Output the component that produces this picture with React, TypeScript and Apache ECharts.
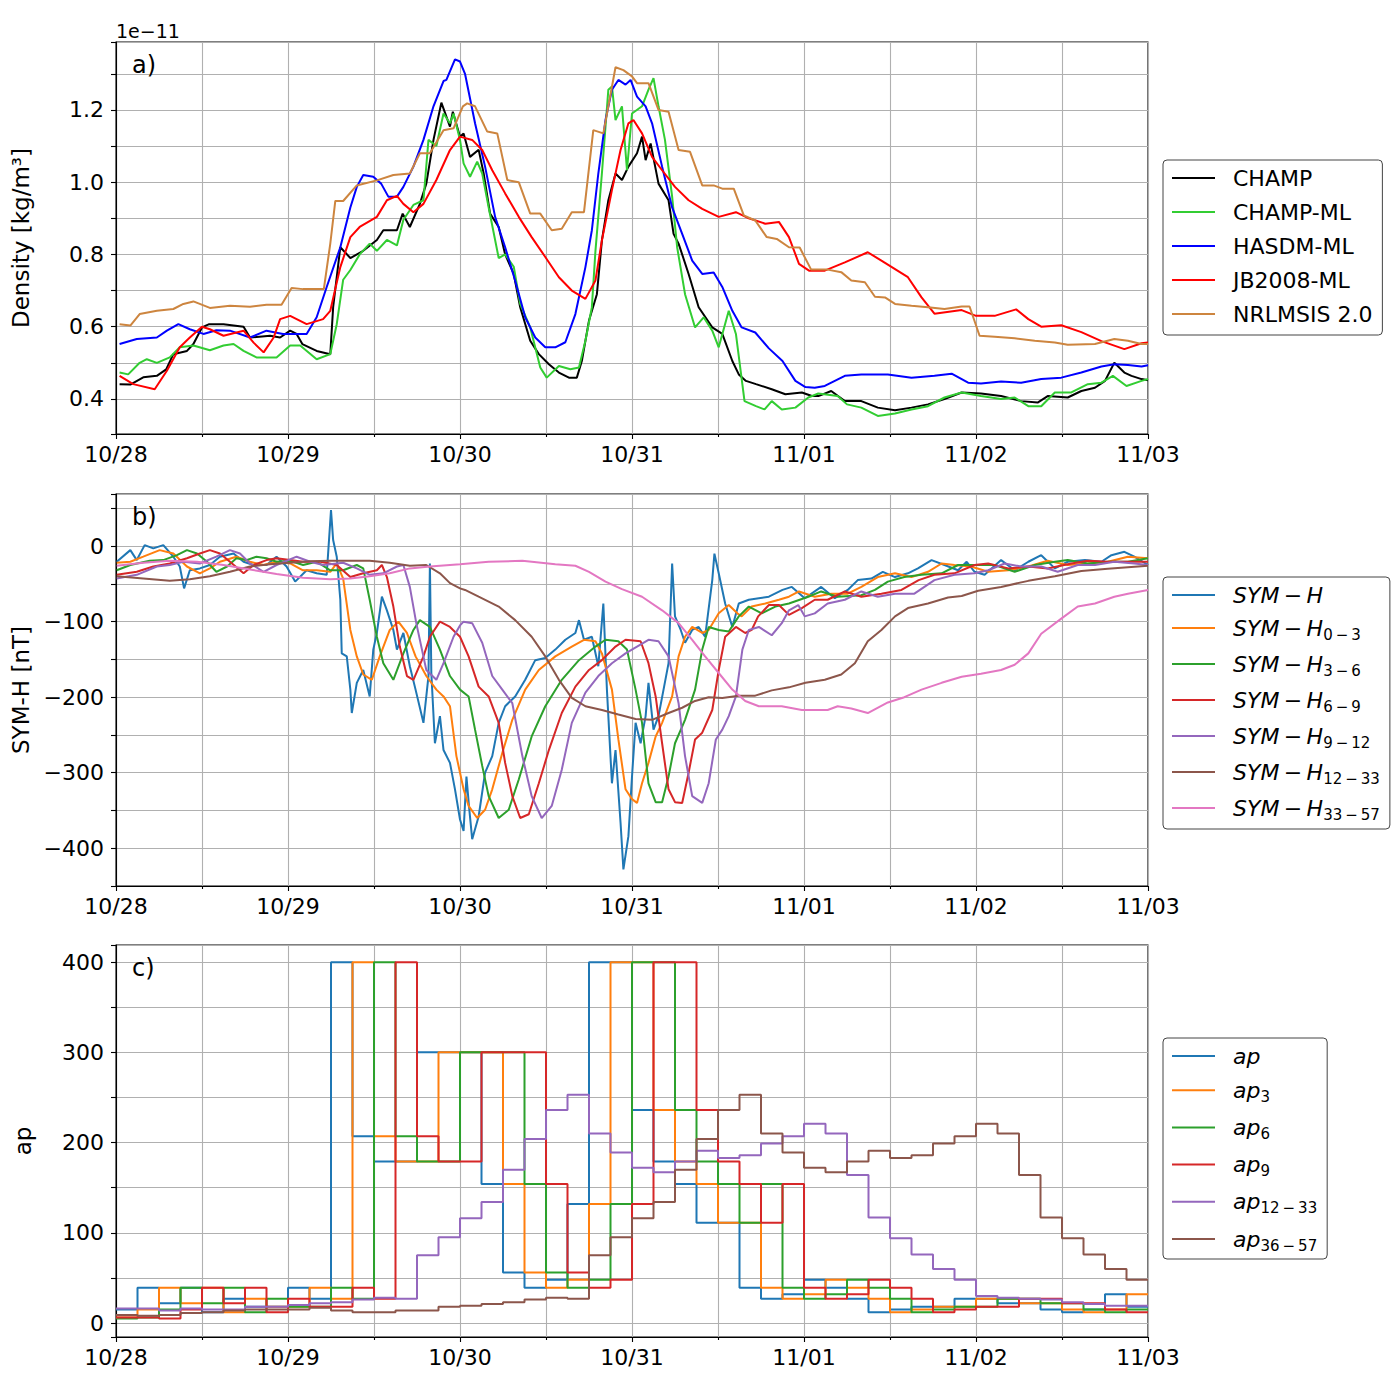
import React, { useEffect, useRef } from 'react';
import * as echarts from 'echarts';

const FONT = 'DejaVu Sans';
const DATE_LABELS = ['10/28', '10/29', '10/30', '10/31', '11/01', '11/02', '11/03'];

// ---------- Panel a: density (units of 1e-11 kg/m^3), [hours since 10/28, value] ----------
const CHAMP = [[0.5,0.441],[2,0.44],[3.8,0.46],[5.7,0.464],[7,0.482],[8,0.524],[9.9,0.533],[10.8,0.552],[12,0.598],[13,0.607],[15,0.607],[17.8,0.60],[18.7,0.57],[21.5,0.575],[22.9,0.57],[24.3,0.589],[25.2,0.58],[26,0.552],[28,0.533],[29.9,0.524],[30.3,0.654],[31.3,0.82],[32.7,0.79],[34.5,0.81],[36.4,0.84],[37.3,0.867],[39.2,0.867],[40,0.913],[41,0.876],[42.4,0.94],[43.3,0.996],[44.3,1.117],[45.4,1.22],[46.6,1.154],[47,1.195],[48,1.126],[48.5,1.135],[49.4,1.07],[50.6,1.09],[51.3,1.024],[52.2,0.913],[53.4,0.876],[54.3,0.80],[55.5,0.746],[56.4,0.654],[57.8,0.561],[59,0.524],[60.4,0.496],[61.8,0.473],[63.2,0.459],[64.3,0.459],[65,0.505],[66,0.617],[67.1,0.69],[67.8,0.839],[68.7,0.95],[69.7,1.024],[70.6,1.006],[71.5,1.043],[72.7,1.08],[73.4,1.126],[73.9,1.061],[74.6,1.107],[75.7,0.996],[77.1,0.95],[77.8,0.857],[78.5,0.83],[79.9,0.746],[81.3,0.654],[83.2,0.598],[84.6,0.58],[86,0.505],[86.9,0.468],[87.9,0.45],[89.3,0.441],[91.5,0.427],[93.4,0.413],[95.7,0.418],[97.1,0.408],[98,0.408],[99.8,0.422],[101.7,0.394],[104,0.394],[106.3,0.376],[108.7,0.369],[111,0.376],[113.3,0.385],[115.6,0.40],[118,0.418],[120.7,0.415],[123.5,0.408],[126.3,0.394],[128.6,0.39],[130,0.408],[132.8,0.404],[134.7,0.422],[136.6,0.431],[138,0.45],[139.3,0.50],[140.7,0.473],[141.7,0.464],[143.1,0.455],[144,0.452]];
const CHAMP_ML = [[0.5,0.473],[1.7,0.468],[3.3,0.50],[4.3,0.51],[5.7,0.50],[7.5,0.515],[8.9,0.543],[10.8,0.548],[13.1,0.535],[15,0.548],[16.4,0.552],[17.8,0.533],[19.6,0.515],[22.4,0.515],[24.3,0.548],[25.7,0.548],[28,0.51],[29.9,0.524],[30.8,0.607],[31.7,0.73],[32.7,0.757],[34,0.80],[35.4,0.83],[36.4,0.81],[37.8,0.84],[39.2,0.825],[40.1,0.896],[41.5,0.937],[42.9,0.95],[43.6,1.117],[44.7,1.10],[45.7,1.19],[46.6,1.163],[47.1,1.19],[48,1.117],[48.5,1.052],[49.4,1.015],[50.4,1.057],[51.1,1.024],[52,0.93],[53.4,0.79],[54.3,0.80],[55.5,0.766],[56.4,0.663],[57.8,0.598],[59.2,0.487],[60.1,0.459],[61.8,0.491],[63.4,0.482],[64.6,0.487],[65.5,0.561],[66.4,0.654],[66.9,0.81],[67.8,1.024],[68.7,1.256],[69.2,1.265],[69.7,1.172],[70.6,1.21],[71.3,1.033],[72,1.19],[73.4,1.21],[74.3,1.256],[75,1.288],[75.7,1.21],[76.6,1.117],[77.6,0.96],[78.3,0.82],[79.4,0.69],[80.8,0.598],[82,0.626],[83.2,0.589],[84.1,0.543],[85.5,0.644],[86.5,0.58],[87.7,0.394],[89.3,0.38],[90.5,0.371],[91.5,0.394],[92.9,0.371],[94.8,0.376],[96.6,0.404],[98,0.415],[100.7,0.408],[102,0.385],[104,0.376],[106.3,0.353],[108.7,0.36],[111,0.371],[113.3,0.38],[115.6,0.404],[118,0.418],[120.7,0.408],[123.5,0.40],[125.4,0.404],[127.3,0.38],[129.1,0.38],[131,0.418],[133.3,0.418],[135.6,0.441],[137.5,0.445],[139.1,0.464],[141,0.436],[143.1,0.45],[144,0.455]];
const HASDM_ML = [[0.5,0.552],[2.9,0.566],[5.7,0.57],[7.1,0.589],[8.7,0.607],[10.3,0.593],[12.2,0.58],[14,0.59],[15.9,0.589],[18.7,0.57],[21,0.589],[23.3,0.58],[26.6,0.58],[28,0.626],[29.4,0.71],[31.3,0.82],[32.7,0.93],[33.6,0.987],[34.5,1.02],[35.9,1.015],[37,0.996],[38,0.96],[39.2,0.96],[40.1,0.987],[41.5,1.043],[42.9,1.117],[44.3,1.21],[45.7,1.28],[46.1,1.283],[47.3,1.34],[48,1.334],[48.7,1.30],[50.1,1.163],[51.5,1.043],[52.9,0.904],[54.3,0.82],[55.7,0.727],[57.1,0.626],[58.5,0.57],[59.9,0.543],[61.3,0.543],[62.7,0.557],[64.1,0.635],[65.5,0.765],[66.4,0.867],[67.3,1.024],[68.3,1.172],[69.2,1.256],[70.1,1.283],[71.1,1.27],[71.8,1.283],[72.7,1.237],[73.9,1.21],[74.8,1.163],[76.2,1.043],[77.6,0.93],[79,0.857],[80.4,0.783],[81.8,0.746],[83.4,0.75],[84.6,0.71],[86,0.644],[87.3,0.598],[89.2,0.584],[91.1,0.54],[93,0.505],[94.8,0.45],[96.2,0.433],[97.5,0.431],[98.9,0.436],[101.7,0.464],[104,0.468],[107.7,0.468],[111,0.459],[114.2,0.464],[116.6,0.47],[118.9,0.445],[120.7,0.443],[123.5,0.448],[126.3,0.445],[129.1,0.455],[131.9,0.459],[134.7,0.473],[137.5,0.49],[139.3,0.496],[141.2,0.494],[143.1,0.49],[144,0.493]];
const JB2008_ML = [[0.5,0.464],[2.4,0.441],[5.4,0.427],[7.1,0.478],[8.9,0.543],[10.3,0.57],[12,0.60],[13.1,0.593],[15,0.575],[17.8,0.589],[19.2,0.556],[20.6,0.529],[22,0.57],[22.9,0.621],[24.3,0.63],[26.6,0.607],[28.9,0.621],[29.9,0.644],[31.3,0.765],[32.7,0.848],[34,0.876],[36.4,0.904],[37.8,0.95],[39.2,0.962],[40.1,0.94],[41.5,0.917],[42.9,0.94],[44.7,1.006],[46.6,1.089],[48,1.126],[49.7,1.117],[51.1,1.089],[52.5,1.033],[54.3,0.969],[56.2,0.904],[58,0.848],[59.9,0.793],[61.8,0.737],[63.6,0.70],[65.5,0.677],[66.9,0.728],[67.8,0.839],[69.2,0.978],[70.4,1.089],[71.5,1.163],[72.2,1.172],[73.4,1.135],[74.8,1.07],[76.2,1.033],[78,0.987],[79.9,0.95],[81.8,0.926],[84.1,0.904],[86.5,0.917],[88.3,0.90],[90.6,0.885],[92.5,0.89],[93.9,0.848],[95.3,0.774],[96.7,0.755],[98.9,0.755],[101.7,0.778],[104.9,0.806],[106.8,0.783],[110.5,0.737],[112.4,0.681],[114.2,0.636],[118,0.646],[120,0.63],[122.6,0.63],[125.6,0.648],[127.3,0.621],[129.1,0.60],[131.9,0.604],[134.7,0.585],[137.5,0.56],[140.7,0.538],[143.1,0.554],[144,0.556]];
const NRLMSIS = [[0.5,0.607],[2,0.603],[3.3,0.635],[5.7,0.644],[8,0.649],[9.4,0.663],[10.8,0.67],[13.1,0.652],[15.9,0.658],[18.7,0.655],[21,0.661],[23.1,0.661],[24.5,0.707],[26.1,0.704],[29,0.704],[29.9,0.83],[30.6,0.948],[31.7,0.948],[33.6,0.991],[36.4,1.005],[38.7,1.02],[41,1.024],[42.4,1.08],[43.8,1.08],[45.7,1.144],[47.1,1.149],[48.4,1.21],[49,1.218],[50.1,1.21],[51.8,1.14],[53.2,1.135],[54.6,1.006],[56.2,1.0],[57.8,0.913],[59.2,0.913],[60.8,0.867],[62.2,0.871],[63.6,0.917],[65.3,0.917],[66.6,1.144],[68,1.135],[69.7,1.318],[70.8,1.31],[72,1.293],[72.7,1.274],[74.3,1.274],[75.7,1.2],[77.1,1.195],[78.5,1.089],[80.1,1.084],[81.8,0.991],[83.4,0.991],[84.6,0.982],[86.2,0.982],[87.6,0.908],[89.2,0.894],[90.8,0.848],[92.2,0.843],[93.9,0.82],[95.4,0.819],[97,0.758],[99.3,0.758],[101.2,0.751],[102.6,0.728],[104.5,0.723],[105.9,0.683],[107.3,0.681],[108.7,0.663],[111,0.658],[113.3,0.654],[115.6,0.649],[118,0.656],[119.1,0.656],[120.5,0.575],[122.6,0.572],[125.4,0.568],[128.2,0.561],[131,0.556],[132.8,0.55],[136.6,0.552],[139.3,0.566],[141.2,0.561],[143.1,0.552],[144,0.552]];

// ---------- Panel b: SYM-H [nT] ----------
const SYMH = [[0.1,-20.7],[2,-5.3],[2.9,-18.5],[4,1.3],[5.2,-3],[6.6,1.3],[8,-14],[8.9,-27],[9.5,-56],[10.3,-32],[11.7,-29.5],[13.1,-25],[14.5,-14],[16.4,-9.7],[17.8,-20.7],[19.2,-25],[21,-25],[22.4,-14],[23.8,-27],[25,-47],[26.6,-32],[28,-36],[29.4,-38],[30,47.6],[30.3,8],[30.8,-14],[31.3,-71],[31.5,-142],[32.2,-146],[32.7,-190],[32.9,-221],[33.6,-181],[34.5,-164],[35.4,-199],[35.9,-137],[36.4,-115],[37.1,-67],[37.8,-85],[38.7,-111],[39.2,-137],[40.1,-115],[41,-159],[41.8,-190],[42.9,-234],[43.6,-172],[43.8,-23],[44,-168],[44.5,-261],[45.2,-225],[45.7,-270],[46.6,-287],[47.3,-322],[48,-362],[48.5,-377],[48.9,-305],[49.3,-349],[49.7,-388],[50.6,-358],[51.5,-300],[52.5,-278],[53.4,-234],[54.3,-212],[55.7,-199],[57.1,-177],[58.5,-151],[59.9,-148],[61.3,-137],[62.7,-124],[64.1,-115],[64.6,-98],[65.3,-124],[66.4,-120],[67.3,-159],[68,-76],[68.5,-190],[69.2,-314],[69.7,-270],[70.4,-366],[70.8,-428],[71.5,-384],[72,-305],[72.5,-234],[73.2,-261],[73.9,-225],[74.3,-181],[75,-243],[75.7,-225],[76.4,-190],[77.1,-155],[77.6,-23],[78,-93],[78.8,-111],[79.4,-128],[80.4,-111],[81.3,-107],[82.2,-120],[83.2,-45],[83.5,-10],[84.1,-36],[85,-76],[86,-107],[86.9,-76],[88.3,-71],[89.7,-69],[91.1,-67],[93,-58],[94.3,-54],[96.1,-69],[98.4,-54],[100.3,-69],[102.1,-58],[103.5,-45],[105.4,-43],[107,-34],[108.7,-41],[110.5,-36],[111.9,-29.5],[113.8,-18.5],[115.6,-25],[117.5,-32],[118.7,-20.7],[119.8,-34],[121.2,-38],[123.5,-18.5],[125.4,-32],[127.3,-20.7],[129.1,-12],[131,-29.5],[132.8,-20.7],[135.2,-18.5],[137.5,-20.7],[138.9,-12],[140.7,-7.5],[142.1,-14],[144,-25]];
const SYMH_0_3 = [[0.1,-22],[2,-20.7],[3.8,-14],[6.1,-5.3],[8,-9.7],[9.9,-27],[11.7,-36],[13.1,-29.5],[14.5,-20.7],[16.8,-14],[18.7,-20.7],[20.6,-25],[22.4,-20.7],[24.3,-23],[26.1,-32],[28,-32],[29.9,-34],[30.8,-23],[31.7,-43],[32.7,-111],[33.6,-146],[34.5,-170],[35.7,-177],[36.8,-146],[38.2,-111],[39.4,-100],[40.6,-115],[41.8,-146],[43.3,-172],[44.7,-190],[45.7,-199],[46.6,-212],[47.5,-278],[48.5,-322],[49.2,-344],[50.4,-360],[51.5,-349],[52.5,-322],[53.9,-274],[55.3,-230],[57.1,-190],[59,-164],[61.3,-146],[63.6,-133],[65.3,-124],[66.9,-126],[67.8,-142],[69.2,-190],[70.1,-256],[71.1,-322],[72,-335],[72.7,-340],[73.4,-314],[74.3,-287],[75.3,-252],[76.2,-234],[77.6,-199],[78.5,-146],[79.4,-120],[80.4,-107],[81.8,-115],[82.7,-111],[84.1,-89],[85.5,-78],[86.7,-89],[87.3,-93],[88.7,-80],[90.6,-76],[92.5,-71],[93.9,-67],[95.3,-60],[97.5,-67],[99.8,-63],[102.1,-63],[104,-54],[106.3,-41],[108.7,-36],[111,-41],[113.3,-34],[115.2,-23],[117,-25],[119.3,-27],[121.7,-34],[124.5,-32],[127.3,-27],[130,-19.4],[132.8,-25],[135.6,-23],[138.4,-20.7],[141.2,-14],[144,-16]];
const SYMH_3_6 = [[0.1,-32],[2,-25],[4.7,-19.4],[6.6,-18.5],[8.5,-12],[9.9,-5.3],[11.3,-9.7],[12.7,-20.7],[14,-34],[15.5,-27],[16.8,-16],[18.2,-18.5],[19.6,-14],[21,-16],[22.4,-20.7],[24.3,-19.4],[26.1,-25],[28,-20.7],[29.9,-32],[31.7,-32],[33.6,-25],[34.5,-29.5],[35.4,-71],[36.4,-120],[37.3,-155],[38.7,-177],[40.1,-142],[41.5,-111],[42.4,-98],[43.8,-107],[45.2,-137],[46.6,-172],[48,-190],[49.2,-199],[50.1,-243],[51.1,-291],[52,-331],[53.4,-360],[54.8,-349],[56.2,-309],[58,-252],[59.9,-212],[62.2,-177],[64.6,-151],[66.9,-133],[68.3,-124],[70.1,-126],[71.3,-137],[72.5,-190],[73.4,-234],[74.3,-314],[75.3,-339],[76.2,-339],[77.1,-305],[78,-261],[79.4,-230],[80.8,-190],[81.8,-137],[82.7,-107],[84.1,-111],[85.5,-113],[86.9,-93],[88.3,-80],[90.1,-89],[92,-80],[93.9,-76],[96.6,-67],[98.4,-60],[100.7,-67],[104,-65],[105.9,-58],[107.7,-47],[110,-41],[112.4,-38],[115.2,-36],[117.5,-25],[119.8,-25],[122.6,-25],[125.4,-34],[128.2,-25],[131,-20.7],[132.8,-18.5],[135.6,-23],[138.4,-20.7],[141.2,-20.7],[144,-16]];
const SYMH_6_9 = [[0.1,-38],[2.9,-34],[5.2,-27],[7.5,-23],[9.9,-16],[11.7,-9.7],[13.1,-5.3],[14.5,-9.7],[15.9,-20.7],[17.8,-36],[19.2,-25],[21,-18.5],[22.4,-16],[24.3,-18.5],[26.1,-20.7],[28.5,-20.7],[30.8,-25],[32.7,-41],[34.5,-36],[36.4,-32],[37.1,-25],[37.8,-41],[38.7,-80],[39.6,-133],[40.6,-172],[41.5,-177],[42.9,-146],[43.8,-120],[45.2,-100],[46.6,-107],[48,-120],[49.2,-146],[50.6,-186],[52,-199],[53.4,-234],[54.3,-287],[55.3,-331],[56.4,-360],[57.6,-355],[59,-314],[60.4,-270],[62.2,-221],[64.1,-186],[66,-164],[67.8,-151],[69.7,-133],[71.1,-124],[73.2,-126],[74.3,-155],[75.3,-199],[76.2,-261],[77.1,-322],[78,-339],[79,-340],[79.9,-300],[80.8,-256],[81.8,-247],[83.2,-217],[84.1,-164],[85,-120],[86.5,-107],[87.8,-115],[88.7,-111],[89.6,-93],[91.1,-78],[92.5,-78],[93.9,-91],[95.7,-82],[97.5,-71],[99.3,-71],[101.7,-60],[104,-67],[106.8,-63],[109.6,-58],[112,-45],[114.2,-38],[117,-36],[119.8,-25],[121.7,-23],[124.5,-29.5],[127.3,-27],[130,-29.5],[133.3,-23],[135.6,-19.4],[138.4,-20.7],[141.2,-20.7],[144,-20.7]];
const SYMH_9_12 = [[0.1,-43],[2.9,-38],[5.7,-27],[7.5,-25],[9.4,-20.7],[11.7,-23],[14,-14],[15.9,-5.3],[17.3,-9.7],[18.7,-23],[20.6,-34],[22.4,-25],[25.2,-14],[27.1,-20.7],[28.9,-25],[31.7,-22],[33.6,-29.5],[35.4,-38],[37.3,-36],[39.2,-27],[40.1,-25],[41,-54],[41.9,-102],[43.3,-164],[44.7,-177],[45.7,-155],[47.1,-120],[48,-105],[48.5,-100],[49.7,-102],[51.1,-128],[52.5,-172],[53.9,-190],[55.3,-208],[56.7,-278],[58,-331],[59.4,-360],[60.8,-344],[62.2,-296],[63.6,-234],[65.5,-194],[67.3,-172],[69.2,-155],[71.1,-142],[72.7,-133],[74.3,-124],[75.7,-126],[77.1,-146],[78.5,-208],[79.4,-278],[80.4,-331],[81.8,-340],[82.7,-314],[83.7,-256],[84.6,-243],[85.5,-225],[86.5,-199],[87.4,-137],[88.3,-111],[89.7,-107],[91.5,-118],[92.9,-102],[93.9,-85],[95.2,-78],[96.1,-93],[97.5,-89],[99.3,-76],[101.7,-71],[104,-60],[106.3,-67],[108.7,-63],[111.4,-63],[114.2,-45],[117,-38],[119.8,-36],[121.7,-32],[124,-23],[126.3,-27],[129.1,-27],[131.4,-34],[134.2,-25],[136.6,-25],[139.3,-20.7],[142.1,-23],[144,-25]];
const SYMH_12_33 = [[0.1,-40],[3.8,-43],[7.5,-46],[10.3,-44],[13.1,-40],[15.9,-34],[18.7,-27],[21.5,-24],[24.3,-22],[27.1,-20],[29.9,-19.4],[32.7,-19.4],[35.4,-19.4],[38.2,-22],[41,-26],[43.3,-25],[45.2,-36],[46.6,-49],[48,-56],[48.7,-58],[50.6,-67],[53.4,-80],[55.7,-98],[58,-120],[59.9,-146],[61.8,-177],[63.6,-201],[65.5,-212],[67.8,-217],[70.1,-223],[72.5,-229],[74.8,-230],[77.1,-221],[79,-214],[80.8,-205],[82.7,-200],[84.6,-201],[86.9,-198],[89.2,-198],[91.5,-191],[93.9,-187],[96.2,-181],[98.9,-177],[101.2,-170],[103.1,-155],[104.9,-126],[106.8,-111],[108.7,-93],[110.5,-82],[113.3,-76],[116.1,-68],[118,-66],[120.3,-59],[123.5,-54],[127.3,-46],[131,-40],[134.7,-33],[138.4,-30],[141.2,-28],[144,-26]];
const SYMH_33_57 = [[0.1,-26],[3.8,-22],[7.5,-19.4],[11.3,-20.7],[15,-25],[18.7,-31],[22.4,-37],[26.1,-42],[29.9,-44],[32.7,-43],[35.4,-40],[38.2,-36],[41,-29.5],[43.8,-27],[46.6,-25],[48,-24],[52,-20.7],[56.7,-19.4],[61.3,-24],[64.1,-26],[66,-34],[68.3,-47],[70.6,-57],[73.4,-67],[76.2,-85],[78.5,-102],[80.4,-124],[82.2,-146],[84.1,-168],[86,-190],[87.8,-205],[89.7,-212],[92.9,-212],[95.7,-217],[99.3,-217],[100.7,-212],[102.6,-215],[104.9,-221],[107.7,-207],[110,-200],[112.4,-190],[115.2,-181],[118,-173],[120.7,-169],[123.5,-164],[125.4,-157],[127.3,-142],[129.1,-116],[131.9,-96],[134.2,-80],[136.6,-76],[139.3,-67],[141.2,-63],[144,-58]];

// ---------- Panel c: ap, one value per 3-hour bin (48 bins) ----------
const AP = [15,39,22,39,12,27,18,18,39,27,400,207,179,179,300,300,300,154,56,39,48,132,400,400,236,179,154,111,111,39,27,32,48,39,27,12,15,18,18,27,27,22,22,15,12,15,32,18];
const AP_3 = [6,15,39,22,39,12,27,18,18,39,27,400,207,179,179,300,300,300,154,56,39,48,132,400,400,236,179,154,111,111,39,27,32,48,39,27,12,15,18,18,27,27,22,22,15,12,15,32];
const AP_6 = [5,6,15,39,22,39,12,27,18,18,39,27,400,207,179,179,300,300,300,154,56,39,48,132,400,400,236,179,154,111,154,39,27,32,48,39,27,12,15,18,18,27,27,22,22,15,12,15];
const AP_9 = [6,6,5,15,39,22,39,12,27,18,18,39,27,400,207,179,179,300,300,300,154,56,39,48,132,400,400,236,179,154,111,154,39,27,32,48,39,27,12,15,18,18,27,27,22,22,15,12];
const AP_12_33 = [16,16,14,16,15,15,18,18,20,22,23,26,28,27,75,95,116,134,170,204,236,253,210,189,172,167,179,191,183,186,199,207,221,210,164,117,94,76,60,48,30,28,27,26,23,21,19,19];
const AP_36_57 = [9,8,9,11,12,14,15,15,15,17,14,12,12,14,14,18,19,21,23,26,28,27,75,95,116,134,170,204,236,253,210,189,172,167,179,191,183,186,199,207,221,210,164,117,94,76,60,48];
const BIN_HOURS = 3;

const TAB = ['#1f77b4', '#ff7f0e', '#2ca02c', '#d62728', '#9467bd', '#8c564b', '#e377c2'];

const SP = '\u2009';
const MINUS = '\u2212';
const LEGEND_B: Record<string, [string, string]> = {
  'SYM-H': [`SYM${SP}${MINUS}${SP}H`, ''],
  'SYM-H0-3': [`SYM${SP}${MINUS}${SP}H`, `0${SP}${MINUS}${SP}3`],
  'SYM-H3-6': [`SYM${SP}${MINUS}${SP}H`, `3${SP}${MINUS}${SP}6`],
  'SYM-H6-9': [`SYM${SP}${MINUS}${SP}H`, `6${SP}${MINUS}${SP}9`],
  'SYM-H9-12': [`SYM${SP}${MINUS}${SP}H`, `9${SP}${MINUS}${SP}12`],
  'SYM-H12-33': [`SYM${SP}${MINUS}${SP}H`, `12${SP}${MINUS}${SP}33`],
  'SYM-H33-57': [`SYM${SP}${MINUS}${SP}H`, `33${SP}${MINUS}${SP}57`],
};
const LEGEND_C: Record<string, [string, string]> = {
  'ap': ['ap', ''],
  'ap3': ['ap', '3'],
  'ap6': ['ap', '6'],
  'ap9': ['ap', '9'],
  'ap12-33': ['ap', `12${SP}${MINUS}${SP}33`],
  'ap36-57': ['ap', `36${SP}${MINUS}${SP}57`],
};

function stepData(vals: number[]) {
  const d = vals.map((v, i) => [i * BIN_HOURS, v]);
  d.push([vals.length * BIN_HOURS, vals[vals.length - 1]]);
  return d;
}

const GRID_LINE = { color: '#b0b0b0', width: 1.1 };
const AXIS_LINE = { color: '#000', width: 1.1 };

function mkX(gridIndex: number) {
  return {
    type: 'value', gridIndex, min: 0, max: 144, interval: 24,
    axisLine: { show: true, onZero: false, lineStyle: AXIS_LINE },
    axisTick: { show: true, length: 5, lineStyle: AXIS_LINE },
    minorTick: { show: true, splitNumber: 2, length: 3, lineStyle: AXIS_LINE },
    splitLine: { show: true, lineStyle: GRID_LINE },
    minorSplitLine: { show: true, lineStyle: GRID_LINE },
    axisLabel: {
      color: '#000', fontSize: 22, fontFamily: FONT, margin: 9, showMinLabel: true, showMaxLabel: true,
      formatter: (v: number) => {
        const i = Math.round(v / 24);
        return Math.abs(v - i * 24) < 1e-6 ? DATE_LABELS[i] : '';
      },
    },
  };
}

function mkY(gridIndex: number, min: number, max: number, splitNumber: number, fmt: (v: number) => string, name: string, nameGap: number) {
  return {
    type: 'value', gridIndex, min, max, splitNumber,
    name, nameLocation: 'middle', nameGap,
    nameTextStyle: { color: '#000', fontSize: 23, fontFamily: FONT },
    axisLine: { show: true, onZero: false, lineStyle: AXIS_LINE },
    axisTick: { show: true, length: 5, lineStyle: AXIS_LINE },
    splitLine: { show: true, lineStyle: GRID_LINE },
    axisLabel: { color: '#000', fontSize: 22, fontFamily: FONT, margin: 12, showMinLabel: true, showMaxLabel: true, formatter: fmt },
  };
}

const fmtA = (v: number) => {
  const t = v * 10;
  const r = Math.round(t);
  if (Math.abs(t - r) > 1e-6 || r % 2 !== 0) return '';
  return (r / 10).toFixed(1);
};
const fmtB = (v: number) => {
  const r = Math.round(v);
  if (Math.abs(v - r) > 1e-6 || r % 100 !== 0) return '';
  return r < 0 ? MINUS + Math.abs(r) : String(r);
};
const fmtC = (v: number) => {
  const r = Math.round(v);
  if (Math.abs(v - r) > 1e-6 || r % 100 !== 0 || r < 0) return '';
  return String(r);
};

function line(name: string, data: number[][], color: string, idx: number, step?: string) {
  return {
    type: 'line', name, data, xAxisIndex: idx, yAxisIndex: idx,
    symbol: 'none', showSymbol: false, step: step || false,
    lineStyle: { color, width: 2 }, itemStyle: { color },
    emphasis: { disabled: true }, silent: true, clip: true, animation: false,
  };
}

const legendBase = {
  orient: 'vertical', icon: 'rect', itemWidth: 43, itemHeight: 2,
  backgroundColor: '#fff', borderColor: '#444', borderWidth: 1, borderRadius: 4,
  selectedMode: false,
};

const richStyles = {
  i: { fontSize: 22, fontFamily: FONT, fontStyle: 'italic', color: '#000', lineHeight: 28, verticalAlign: 'middle' },
  s: { fontSize: 15, fontFamily: FONT, fontStyle: 'normal', color: '#000', verticalAlign: 'bottom' },
};

export default function App() {
  const ref = useRef<HTMLDivElement>(null);
  useEffect(() => {
    if (!ref.current) return;
    const chart = echarts.init(ref.current, undefined, { renderer: 'svg' });
    const option: any = {
      animation: false,
      backgroundColor: '#fff',
      textStyle: { fontFamily: FONT },
      grid: [
        { left: 116, top: 42, width: 1032, height: 392, show: true, borderColor: '#000', borderWidth: 1.1, backgroundColor: 'transparent' },
        { left: 116, top: 494, width: 1032, height: 392, show: true, borderColor: '#000', borderWidth: 1.1, backgroundColor: 'transparent' },
        { left: 116, top: 945, width: 1032, height: 392, show: true, borderColor: '#000', borderWidth: 1.1, backgroundColor: 'transparent' },
      ],
      xAxis: [mkX(0), mkX(1), mkX(2)],
      yAxis: [
        mkY(0, 0.303, 1.388, 11, fmtA, 'Density [kg/m\u00B3]', 84),
        mkY(1, -450, 69, 10, fmtB, 'SYM-H [nT]', 83),
        mkY(2, -15.5, 419, 9, fmtC, 'ap', 82),
      ],
      legend: [
        {
          ...legendBase, left: 1163, top: 160, itemGap: 10, padding: [6, 10, 9, 9],
          data: ['CHAMP', 'CHAMP-ML', 'HASDM-ML', 'JB2008-ML', 'NRLMSIS 2.0'],
          textStyle: { color: '#000', fontSize: 22, fontFamily: FONT, lineHeight: 24, padding: [0, 0, 0, 13] },
        },
        {
          ...legendBase, left: 1163, top: 577, itemGap: 11, padding: [7, 10, 7, 9],
          data: Object.keys(LEGEND_B),
          formatter: (n: string) => {
            const [m, s] = LEGEND_B[n];
            return s ? `{i|${m}}{s|${s}}` : `{i|${m}}`;
          },
          textStyle: { color: '#000', fontSize: 22, fontFamily: FONT, padding: [0, 0, 0, 13], rich: richStyles },
        },
        {
          ...legendBase, left: 1163, top: 1038, itemGap: 12.2, padding: [7, 10, 6, 9],
          data: Object.keys(LEGEND_C),
          formatter: (n: string) => {
            const [m, s] = LEGEND_C[n];
            return s ? `{i|${m}}{s|${s}}` : `{i|${m}}`;
          },
          textStyle: { color: '#000', fontSize: 22, fontFamily: FONT, padding: [0, 0, 0, 13], rich: richStyles },
        },
      ],
      graphic: [
        { type: 'text', x: 116, y: 31, style: { text: '1e\u221211', fontSize: 19, fontFamily: FONT, fill: '#000', align: 'left', verticalAlign: 'middle' } },
        { type: 'text', x: 132, y: 65, z: 100, style: { text: 'a)', fontSize: 24, fontFamily: FONT, fill: '#000', align: 'left', verticalAlign: 'middle' } },
        { type: 'text', x: 132, y: 517, z: 100, style: { text: 'b)', fontSize: 24, fontFamily: FONT, fill: '#000', align: 'left', verticalAlign: 'middle' } },
        { type: 'text', x: 132, y: 968, z: 100, style: { text: 'c)', fontSize: 24, fontFamily: FONT, fill: '#000', align: 'left', verticalAlign: 'middle' } },
      ],
      series: [
        line('CHAMP', CHAMP, '#000000', 0),
        line('CHAMP-ML', CHAMP_ML, '#32cd32', 0),
        line('HASDM-ML', HASDM_ML, '#0000ff', 0),
        line('JB2008-ML', JB2008_ML, '#ff0000', 0),
        line('NRLMSIS 2.0', NRLMSIS, '#cd853f', 0),
        line('SYM-H', SYMH, TAB[0], 1),
        line('SYM-H0-3', SYMH_0_3, TAB[1], 1),
        line('SYM-H3-6', SYMH_3_6, TAB[2], 1),
        line('SYM-H6-9', SYMH_6_9, TAB[3], 1),
        line('SYM-H9-12', SYMH_9_12, TAB[4], 1),
        line('SYM-H12-33', SYMH_12_33, TAB[5], 1),
        line('SYM-H33-57', SYMH_33_57, TAB[6], 1),
        line('ap', stepData(AP), TAB[0], 2, 'end'),
        line('ap3', stepData(AP_3), TAB[1], 2, 'end'),
        line('ap6', stepData(AP_6), TAB[2], 2, 'end'),
        line('ap9', stepData(AP_9), TAB[3], 2, 'end'),
        line('ap12-33', stepData(AP_12_33), TAB[4], 2, 'end'),
        line('ap36-57', stepData(AP_36_57), TAB[5], 2, 'end'),
      ],
    };
    chart.setOption(option);
    return () => chart.dispose();
  }, []);
  return <div ref={ref} style={{ position: 'absolute', left: 0, top: 0, width: 1400, height: 1400 }} />;
}
